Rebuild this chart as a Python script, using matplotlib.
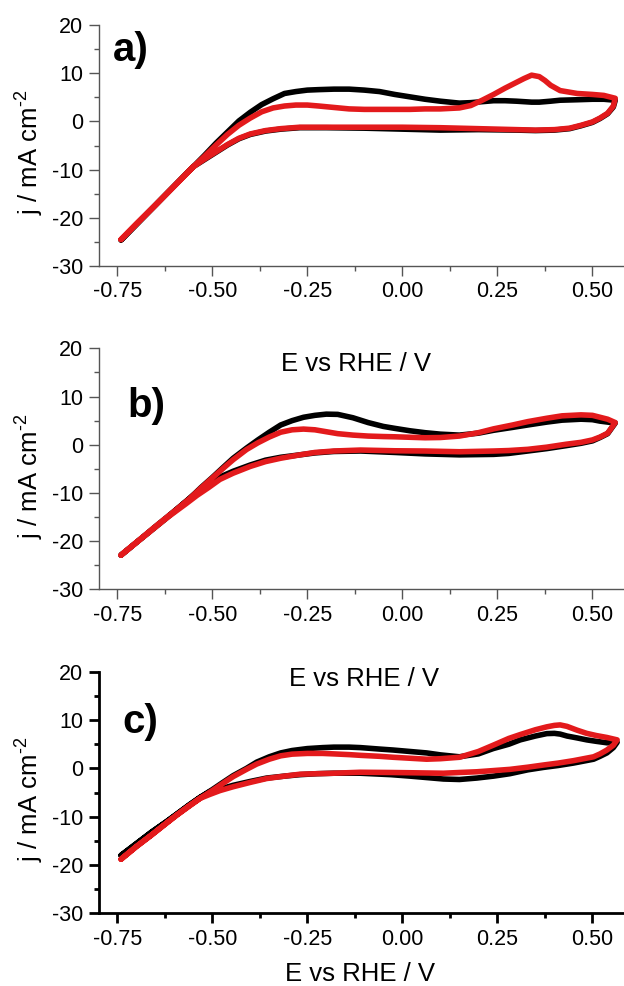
import matplotlib
matplotlib.use("Agg")
import matplotlib.pyplot as plt
from matplotlib.ticker import MultipleLocator

plt.rcParams['font.family'] = ['Liberation Sans', 'DejaVu Sans']
plt.rcParams['mathtext.fontset'] = 'custom'
plt.rcParams['mathtext.rm'] = 'Liberation Sans'
plt.rcParams['mathtext.default'] = 'regular'
plt.rcParams['axes.unicode_minus'] = False

black = "#000000"
red = "#E31A1C"

# panel a) forward (anodic) scan
a_E_fwd = [-0.74, -0.70, -0.65, -0.60, -0.55, -0.52, -0.49, -0.46, -0.43, -0.40, -0.37, -0.34, -0.31, -0.28,
           -0.25, -0.22, -0.18, -0.14, -0.10, -0.06, -0.02, 0.02, 0.06, 0.10, 0.15, 0.18, 0.21, 0.24,
           0.27, 0.30, 0.32, 0.34, 0.36, 0.375, 0.39, 0.415, 0.46, 0.50, 0.53, 0.56]
a_black_fwd = [-24.6, -21.4, -17.4, -13.4, -9.4, -7.0, -4.5, -2.2, 0.1, 1.9, 3.5, 4.7, 5.8, 6.2,
               6.5, 6.6, 6.7, 6.7, 6.5, 6.2, 5.6, 5.1, 4.6, 4.2, 3.8, 3.9, 4.1, 4.3,
               4.3, 4.2, 4.1, 4.0, 4.0, 4.1, 4.2, 4.4, 4.5, 4.6, 4.6, 4.4]
a_red_fwd = [-24.5, -21.3, -17.4, -13.4, -9.4, -7.2, -4.9, -2.7, -0.8, 0.7, 2.0, 2.8, 3.2, 3.4,
             3.4, 3.2, 2.9, 2.6, 2.5, 2.5, 2.5, 2.5, 2.6, 2.6, 2.8, 3.3, 4.4, 5.6,
             6.9, 8.1, 8.9, 9.6, 9.3, 8.5, 7.5, 6.4, 5.8, 5.6, 5.4, 4.8]
# panel a) reverse (cathodic) scan
a_E_rev = [0.56, 0.555, 0.54, 0.52, 0.50, 0.47, 0.44, 0.40, 0.35, 0.30, 0.20, 0.10, 0.00, -0.10,
           -0.20, -0.27, -0.32, -0.36, -0.40, -0.43, -0.46, -0.49, -0.52, -0.55, -0.60, -0.65, -0.70, -0.74]
a_black_rev = [4.4, 3.0, 1.6, 0.6, -0.2, -0.9, -1.5, -1.8, -1.9, -1.8, -1.7, -1.8, -1.6, -1.4,
               -1.3, -1.3, -1.6, -2.0, -2.7, -3.6, -4.9, -6.4, -7.9, -9.4, -13.4, -17.4, -21.4, -24.6]
a_red_rev = [4.8, 3.2, 1.7, 0.7, -0.1, -0.8, -1.4, -1.7, -1.8, -1.7, -1.5, -1.3, -1.2, -1.2,
             -1.2, -1.2, -1.5, -1.9, -2.6, -3.5, -4.8, -6.3, -7.8, -9.4, -13.4, -17.4, -21.3, -24.5]

# panel b)
b_E_fwd = [-0.74, -0.70, -0.65, -0.60, -0.56, -0.53, -0.50, -0.47, -0.445, -0.41, -0.38, -0.35, -0.32,
           -0.29, -0.26, -0.23, -0.20, -0.17, -0.13, -0.09, -0.05, -0.02, 0.02, 0.06, 0.10, 0.15,
           0.20, 0.24, 0.29, 0.33, 0.38, 0.42, 0.47, 0.50, 0.52, 0.54, 0.56]
b_black_fwd = [-22.9, -20.3, -17.0, -13.8, -11.2, -8.9, -6.8, -4.6, -2.8, -0.7, 1.0, 2.6, 4.1,
               5.0, 5.7, 6.1, 6.35, 6.3, 5.6, 4.6, 3.8, 3.4, 2.9, 2.5, 2.2, 2.0,
               2.4, 3.0, 3.6, 4.1, 4.7, 5.1, 5.3, 5.2, 4.9, 4.7, 4.5]
b_red_fwd = [-22.9, -20.3, -17.0, -13.8, -11.2, -9.0, -6.9, -4.8, -3.1, -1.0, 0.4, 1.6, 2.6,
             3.1, 3.25, 3.1, 2.7, 2.3, 2.0, 1.8, 1.7, 1.65, 1.55, 1.45, 1.5, 1.8,
             2.5, 3.3, 4.1, 4.8, 5.5, 6.0, 6.2, 6.1, 5.7, 5.3, 4.6]
b_E_rev = [0.56, 0.55, 0.54, 0.52, 0.50, 0.47, 0.43, 0.38, 0.33, 0.28, 0.24, 0.15, 0.06, -0.02, -0.11,
           -0.18, -0.23, -0.27, -0.32, -0.36, -0.40, -0.445, -0.48, -0.51, -0.54, -0.57, -0.62, -0.67,
           -0.70, -0.74]
b_black_rev = [4.5, 3.4, 2.3, 1.5, 0.8, 0.3, -0.2, -0.8, -1.3, -1.8, -2.0, -2.1, -1.9, -1.6, -1.3,
               -1.4, -1.7, -2.1, -2.6, -3.2, -4.2, -5.5, -6.7, -8.1, -9.8, -11.8, -15.2, -18.4,
               -20.3, -22.9]
b_red_rev = [4.6, 3.5, 2.4, 1.6, 1.0, 0.5, 0.1, -0.5, -0.95, -1.2, -1.3, -1.45, -1.3, -1.25, -1.1,
             -1.3, -1.6, -2.1, -2.8, -3.5, -4.5, -5.9, -7.2, -8.9, -10.5, -12.3, -15.2, -18.4,
             -20.3, -22.9]

# panel c)
c_E_fwd = [-0.74, -0.70, -0.66, -0.62, -0.594, -0.56, -0.532, -0.50, -0.47, -0.445, -0.41, -0.383,
           -0.35, -0.32, -0.29, -0.25, -0.21, -0.18, -0.14, -0.11, -0.06, -0.024, 0.02, 0.064,
           0.10, 0.15, 0.20, 0.239, 0.28, 0.31, 0.35, 0.38, 0.40, 0.415, 0.433, 0.46, 0.485,
           0.51, 0.538, 0.565]
c_black_fwd = [-18.0, -15.6, -13.2, -11.0, -9.5, -7.5, -6.0, -4.4, -2.8, -1.5, 0.0, 1.3,
               2.4, 3.2, 3.7, 4.1, 4.3, 4.4, 4.4, 4.3, 4.0, 3.8, 3.5, 3.2,
               2.8, 2.4, 3.0, 4.1, 5.0, 5.9, 6.7, 7.2, 7.25, 7.1, 6.7, 6.3, 5.9,
               5.6, 5.3, 5.4]
c_red_fwd = [-18.8, -16.2, -13.8, -11.3, -9.7, -7.7, -6.2, -4.6, -3.0, -1.7, -0.2, 0.9,
             1.9, 2.6, 2.95, 3.1, 3.1, 3.0, 2.85, 2.7, 2.5, 2.3, 2.1, 1.9,
             2.0, 2.3, 3.5, 4.8, 6.2, 7.0, 8.0, 8.6, 8.9, 9.0, 8.7, 7.9, 7.25,
             6.8, 6.4, 5.9]
c_E_rev = [0.565, 0.555, 0.538, 0.52, 0.503, 0.45, 0.41, 0.371, 0.33, 0.283, 0.24, 0.196, 0.15,
           0.108, 0.064, 0.02, -0.03, -0.111, -0.18, -0.225, -0.269, -0.31, -0.357, -0.40, -0.445,
           -0.48, -0.507, -0.532, -0.594, -0.62, -0.66, -0.70, -0.74]
c_black_rev = [5.4, 4.3, 3.2, 2.5, 1.9, 1.1, 0.6, 0.2, -0.3, -1.1, -1.6, -2.0, -2.3,
               -2.2, -1.9, -1.6, -1.3, -1.0, -1.0, -1.1, -1.3, -1.6, -2.0, -2.7, -3.5,
               -4.3, -4.85, -6.0, -9.5, -11.0, -13.2, -15.6, -18.0]
c_red_rev = [5.9, 4.8, 3.8, 3.0, 2.4, 1.6, 1.1, 0.7, 0.25, -0.2, -0.45, -0.7, -0.85,
             -1.0, -0.95, -0.9, -0.85, -0.8, -1.0, -1.1, -1.2, -1.6, -2.1, -2.9, -3.8,
             -4.6, -5.4, -6.2, -9.7, -11.3, -13.8, -16.2, -18.8]

panels = [
    ("a)", a_E_fwd, a_black_fwd, a_red_fwd, a_E_rev, a_black_rev, a_red_rev),
    ("b)", b_E_fwd, b_black_fwd, b_red_fwd, b_E_rev, b_black_rev, b_red_rev),
    ("c)", c_E_fwd, c_black_fwd, c_red_fwd, c_E_rev, c_black_rev, c_red_rev),
]

# axes boxes in figure fraction (left, bottom, width, height)
boxes = [(0.158, 0.7302, 0.842, 0.2444),
         (0.158, 0.4023, 0.842, 0.2444),
         (0.158, 0.0737, 0.842, 0.2450)]
letter_pos = [(0.062, 0.896), (0.091, 0.761), (0.080, 0.793)]
xlabel_pos = [(0.49, -0.407), (0.505, -0.373), (0.497, -0.25)]
spine_col = ["#555555", "#555555", "#000000"]
spine_w = [1.0, 1.0, 2.0]

fig = plt.figure(figsize=(6.24, 9.86), dpi=100)

for i, (tag, E_f, bk_f, rd_f, E_r, bk_r, rd_r) in enumerate(panels):
    ax = fig.add_axes(boxes[i])
    ax.patch.set_visible(False)
    E = E_f + E_r
    ax.plot(E, bk_f + bk_r, color=black, lw=4.0, solid_capstyle='round', solid_joinstyle='round')
    ax.plot(E, rd_f + rd_r, color=red, lw=4.0, solid_capstyle='round', solid_joinstyle='round')

    ax.set_xlim(-0.799, 0.583)
    ax.set_ylim(-30, 20)
    ax.xaxis.set_major_locator(MultipleLocator(0.25))
    ax.xaxis.set_minor_locator(MultipleLocator(0.125))
    ax.yaxis.set_major_locator(MultipleLocator(10))
    ax.yaxis.set_minor_locator(MultipleLocator(5))
    ax.xaxis.set_major_formatter(plt.FormatStrFormatter('%.2f'))

    for s in ['top', 'right']:
        ax.spines[s].set_visible(False)
    for s in ['left', 'bottom']:
        ax.spines[s].set_color(spine_col[i])
        ax.spines[s].set_linewidth(spine_w[i])
    ax.tick_params(which='major', direction='out', length=7, width=spine_w[i],
                   color=spine_col[i], labelsize=15.5, labelcolor='black', pad=4)
    ax.tick_params(which='minor', direction='out', length=3.5, width=spine_w[i], color=spine_col[i])

    ax.set_ylabel("j / mA cm$^{\u2010 2}$", fontsize=18.5)
    ax.yaxis.set_label_coords(-0.1, 0.47)
    ax.set_xlabel("E vs RHE / V", fontsize=18.5, va='center')
    ax.xaxis.set_label_coords(*xlabel_pos[i])

    ax.text(letter_pos[i][0], letter_pos[i][1], tag, transform=ax.transAxes,
            fontsize=29, fontweight='bold', ha='center', va='center')

fig.savefig("out.png", dpi=100)
